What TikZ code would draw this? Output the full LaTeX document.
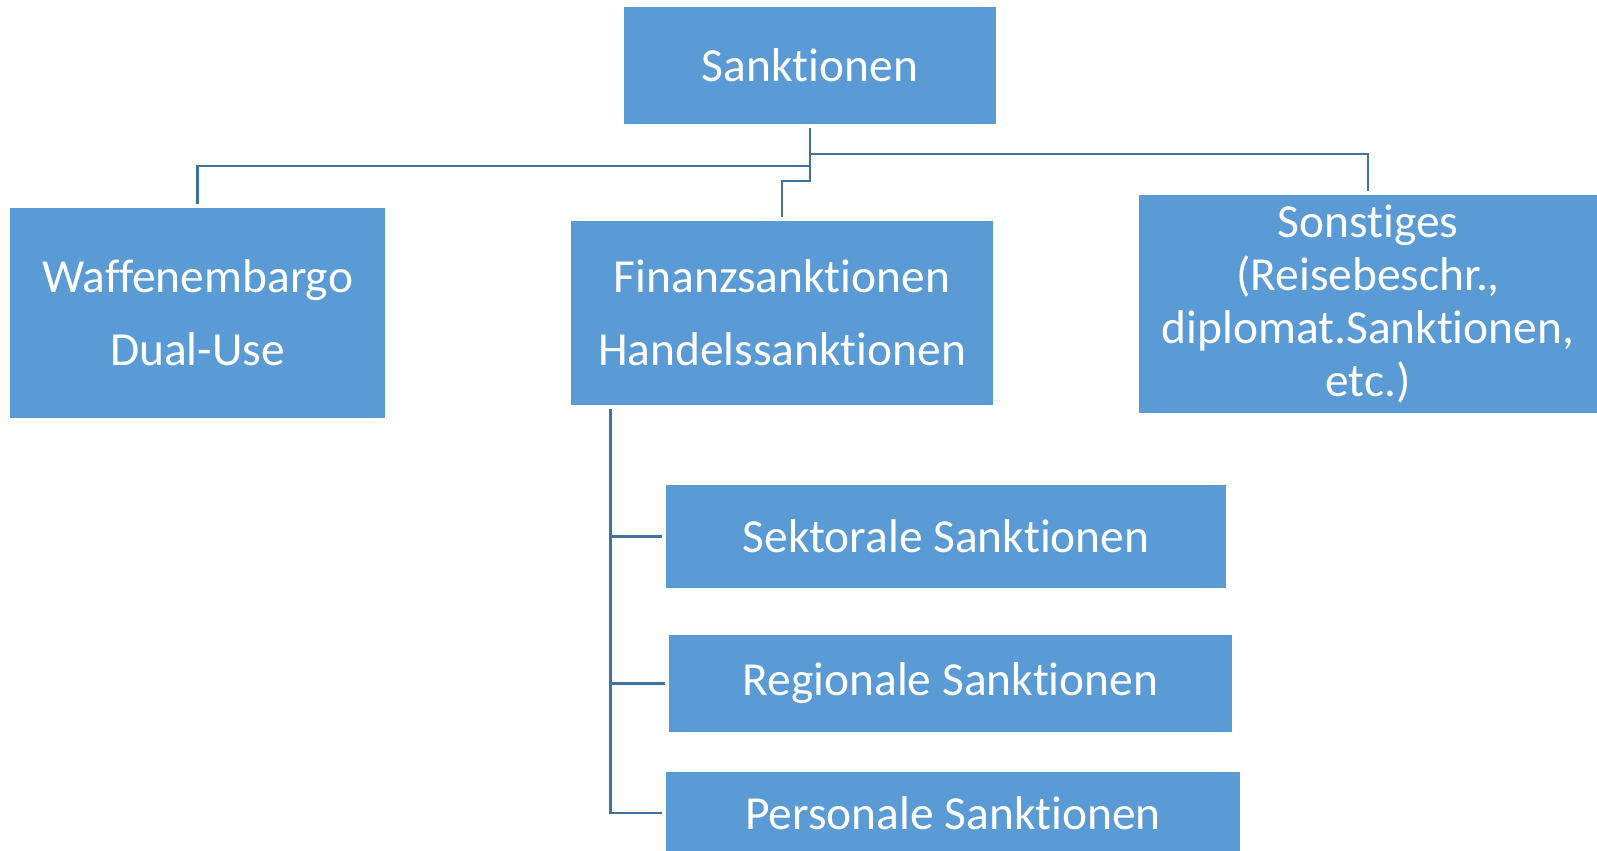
\documentclass[tikz,border=0pt]{standalone}
\usepackage{fontspec}
\setmainfont{Carlito}[Ligatures=NoCommon]
\usepackage{xcolor}
\usepackage{tikz}
\usetikzlibrary{calc}

\definecolor{boxblue}{RGB}{91,155,213}
\definecolor{lineblue}{RGB}{65,113,156}

\begin{document}
\begin{tikzpicture}[
  x=0.02cm, y=-0.02cm,
  box/.style  = {fill=boxblue, text=white, inner sep=0pt, align=center,
                 font=\fontsize{27}{30}\selectfont},
  link/.style = {draw=lineblue, line width=1.4pt, shorten >=2pt}
]
  \useasboundingbox (0,0) rectangle (1597,851);

  \node[box, minimum width=7.44cm, minimum height=2.34cm] (S) at (810,65.5)
      {Sanktionen};
  \node[box, minimum width=7.5cm, minimum height=4.2cm] (W) at (197.5,313)
      {Waffenembargo\\[11.6pt]Dual-Use};
  \node[box, minimum width=8.44cm, minimum height=3.68cm] (F) at (782,313)
      {Finanzsanktionen\\[11.6pt]Handelssanktionen};
  \node[box, minimum width=9.16cm, minimum height=4.36cm] (O) at (1368,304)
      {Sonstiges\\(Reisebeschr.,\\diplomat.Sanktionen,\\etc.)};
  \node[box, minimum width=11.2cm, minimum height=2.06cm] (Sek) at (946,536.5)
      {Sektorale Sanktionen};
  \node[box, minimum width=11.26cm, minimum height=1.94cm] (Reg) at (950.5,683.5)
      {Regionale Sanktionen};
  \node[box, minimum width=11.48cm, minimum height=1.64cm] (Per) at (953,813)
      {Personale Sanktionen};

  \draw[link, shorten <=2pt] (S.south) -- (S.south |- 0,166) -| (W.north);
  \draw[link, shorten <=2pt] (S.south) -- (S.south |- 0,181) -| (F.north);
  \draw[link] (S.south |- 0,154) -| (O.north);

  \coordinate (bus) at ([xshift=0.8cm]F.south west);
  \draw[link, shorten <=2pt] (bus) -- (bus |- Per.west) -- (Per.west);
  \draw[link] (bus |- Sek.west) -- (Sek.west);
  \draw[link] (bus |- Reg.west) -- (Reg.west);
\end{tikzpicture}
\end{document}
